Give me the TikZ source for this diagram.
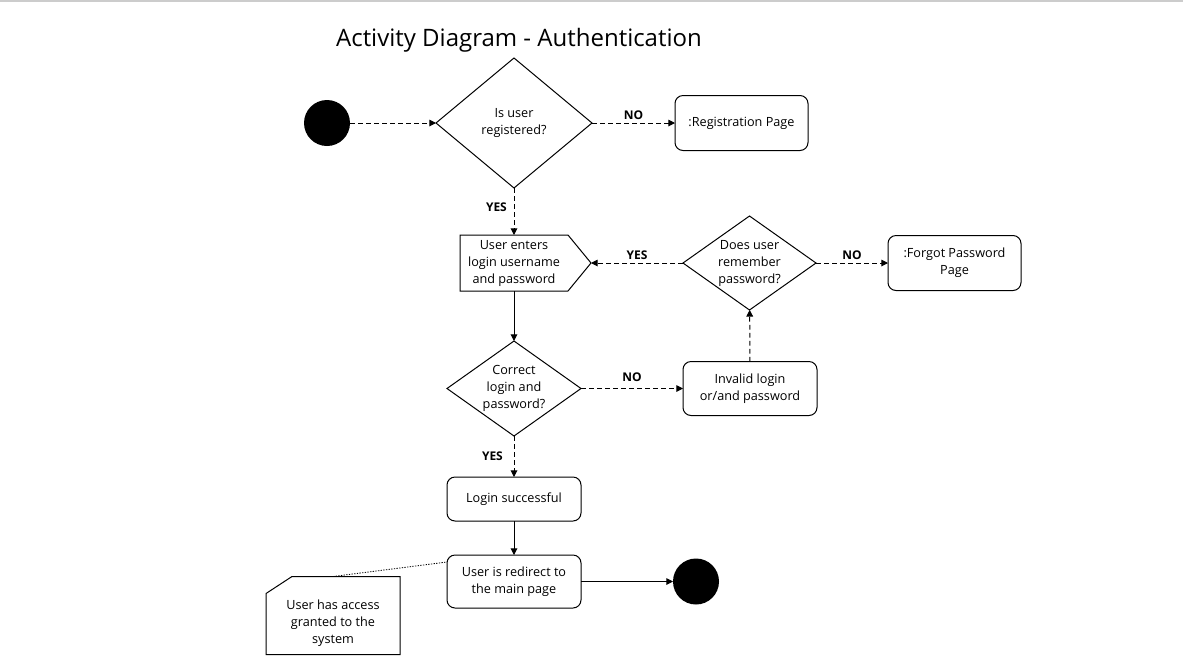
\documentclass[tikz,border=0pt]{standalone}
\usepackage{fontspec}
\setmainfont{Open Sans}
\usetikzlibrary{arrows.meta, positioning, shapes.geometric, calc}
\tikzset{
  adtxt/.style={align=center, font=\fontsize{9.5}{12.75}\selectfont, inner sep=0pt},
  adbox/.style={rectangle, rounded corners=6pt, draw=black, line width=0.75pt, outer sep=0pt,
    fill=white, adtxt, minimum width=100.5pt},
  adbody/.style={rectangle, adtxt, outer sep=0pt, minimum width=81pt, minimum height=42pt},
  addec/.style={diamond, draw=black, line width=0.75pt, inner sep=0pt, outer sep=0pt},
  addot/.style={circle, fill=black, minimum size=34.5pt, inner sep=0pt, outer sep=0pt},
  adnote/.style={rectangle, inner sep=0pt, outer sep=0pt, minimum width=100.5pt, minimum height=58.5pt},
  adline/.style={line width=0.75pt, draw=black},
  adarr/.style={-{Triangle[length=5pt,width=5pt]}, line width=0.75pt, dash pattern=on 3.5pt off 2.5pt},
  adarrs/.style={-{Triangle[length=5pt,width=5pt]}, line width=0.75pt},
  addotted/.style={line width=0.6pt, dash pattern=on 1pt off 1pt},
  adlbl/.style={font=\bfseries\fontsize{9}{10}\selectfont, inner sep=2pt},
  adtitle/.style={font=\fontsize{18}{20}\selectfont, inner sep=0pt},
}
\begin{document}
\begin{tikzpicture}[x=0.75pt, y=-0.75pt]
  \useasboundingbox (0,0) rectangle (1183,669);
  \draw[gray!40, line width=1.5pt] (0,1) -- (1183,1);
  \node[adtitle] (title) at (519,40) {Activity Diagram - Authentication};
  \node[addot] (start) at (327,123) {};
  \node[addec, minimum width=117pt, minimum height=97.5pt, right=64.5pt of start,
    label={[adtxt]center:Is user\\registered?}] (isreg) {};
  \node[adbox, minimum width=99.75pt, minimum height=41.25pt, right=62.25pt of isreg] (regpage) {:Registration Page};
  \node[adbody, below=35.25pt of isreg] (enter) {User enters\\login username\\and password};
  \draw[adline] (enter.north west) -- (enter.north east) -- ($(enter.east)+(17.25pt,0)$) coordinate (entertip)
    -- (enter.south east) -- (enter.south west) -- cycle;
  \node[addec, minimum width=99.75pt, minimum height=70.5pt, right=69pt of entertip,
    label={[adtxt]center:Does user\\remember\\password?}] (remember) {};
  \node[adbox, minimum width=99.75pt, minimum height=41.25pt, right=54pt of remember] (forgot) {:Forgot Password\\Page};
  \node[addec, minimum width=100.5pt, minimum height=71.25pt, below=37.5pt of enter,
    label={[adtxt]center:Correct\\login and\\password?}] (correct) {};
  \node[adbox, minimum height=40.5pt, right=76.5pt of correct] (invalid) {Invalid login\\or/and password};
  \node[adbox, minimum height=33pt, below=30.75pt of correct] (success) {Login successful};
  \node[adbox, minimum height=39.75pt, below=25.5pt of success] (redirect) {User is redirect to\\the main page};
  \node[addot, right=69pt of redirect] (finish) {};
  \node[adnote, left=35.25pt of redirect, yshift=-25.5pt,
    label={[adtxt, yshift=-6pt]center:User has access\\granted to the\\system}] (note) {};
  \draw[adline] (note.south west) -- ($(note.north west)+(0,-12.75pt)$) -- ($(note.north west)+(19.5pt,0)$)
    -- (note.north east) -- (note.south east) -- cycle;
  \draw[adarr] (start) -- (isreg);
  \draw[adarr] (isreg) -- (regpage) node[adlbl, midway, above]{NO};
  \draw[adarr] (isreg) -- (enter) node[adlbl, midway, left, xshift=-3pt, yshift=3pt]{YES};
  \draw[adarr] (remember) -- (entertip) node[adlbl, midway, above]{YES};
  \draw[adarr] (remember) -- (forgot) node[adlbl, midway, above]{NO};
  \draw[adarrs] (enter) -- (correct);
  \draw[adarr] (correct) -- (invalid) node[adlbl, midway, above=3pt]{NO};
  \draw[adarr] (invalid) -- (remember);
  \draw[adarr] (correct) -- (success) node[adlbl, midway, left, xshift=-6pt]{YES};
  \draw[adarrs] (success) -- (redirect);
  \draw[adarrs] (redirect) -- (finish);
  \draw[addotted] (note.north) -- ([yshift=-5.25pt]redirect.north west);
\end{tikzpicture}
\end{document}
